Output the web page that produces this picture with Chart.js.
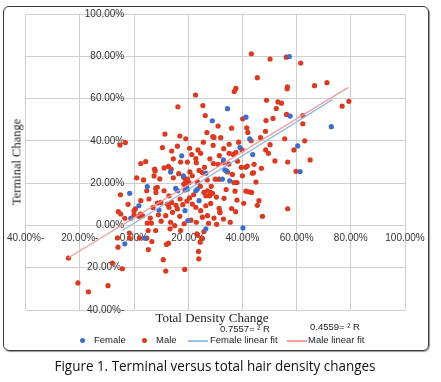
<!DOCTYPE html>
<html>
<head>
<meta charset="utf-8">
<script src="https://cdn.jsdelivr.net/npm/chart.js@4.4.1/dist/chart.umd.min.js"></script>
<style>
body{margin:0;background:#fff;}
#wrap{position:relative;width:441px;height:382px;overflow:hidden;}
#frame{position:absolute;left:3px;top:6px;width:424px;height:343px;border:1px solid #3a3a3a;border-radius:6px;box-shadow:1px 1px 1px #999;}
#c{position:absolute;left:0;top:0;}
.t{position:absolute;white-space:nowrap;color:#222;}
.serif{font-family:"Liberation Serif","DejaVu Serif",serif;}
.sans{font-family:"Liberation Sans",Arial,sans-serif;font-size:9.5px;line-height:12px;}
.dot{position:absolute;width:5px;height:5px;border-radius:50%;}
.ln{position:absolute;height:1.5px;}
</style>
</head>
<body>
<div id="wrap">
  <div id="frame"></div>
  <canvas id="c" width="441" height="382"></canvas>
  <div class="t serif" id="ytitle" style="left:17px;top:162px;font-size:12.5px;transform:translate(-50%,-50%) rotate(-90deg);">Terminal Change</div>
  <div class="t serif" id="xtitle" style="left:212px;top:318px;font-size:13px;transform:translate(-50%,-50%);">Total Density Change</div>
  <div class="t sans" style="left:220px;top:323px;">0.7557= ² R</div>
  <div class="t sans" style="left:310px;top:321px;">0.4559= ² R</div>
  <div class="dot" style="left:80px;top:338px;background:#3a6fd0;"></div>
  <div class="t sans" style="left:94px;top:334px;">Female</div>
  <div class="dot" style="left:142px;top:338px;background:#e2371c;"></div>
  <div class="t sans" style="left:156px;top:334px;">Male</div>
  <div class="ln" style="left:188px;top:340px;width:20px;background:#9cc0e8;"></div>
  <div class="t sans" style="left:210px;top:334px;">Female linear fit</div>
  <div class="ln" style="left:287px;top:340px;width:20px;background:#f5a0a0;"></div>
  <div class="t sans" style="left:308px;top:334px;">Male linear fit</div>
  <div class="t" id="caption" style="left:215px;top:365px;font-family:'Open Sans',sans-serif;font-size:15px;color:#111;"><span id="capText">Figure 1. Terminal versus total hair density changes</span></div>
</div>
<script>
// Female points (total density change %, terminal change %)
const femaleX = [57.3, 28.9, 34.5, 57.6, 41.3, 72.8, 60.4, 61.3, 42.7, 39.1, 43.8, 33.0, 33.5, 34.1, 32.6, 35.3, 17.6, 13.5, 26.5, 15.4, 16.1, 19.7, 22.8, 24.0, 9.2, 18.8, 4.9, -1.6, 1.8, -1.2, -3.4, 3.9, 19.9, 26.5, 40.2, 18.2, 19.1, 23.4];
const femaleY = [79.9, 49.5, 55.2, 51.7, 51.2, 46.7, 37.6, 25.5, 41.0, 36.8, 33.5, 31.0, 26.3, 25.8, 21.9, 21.1, 32.9, 25.3, 24.7, 17.5, 16.4, 17.2, 16.4, 11.7, 7.3, 7.0, 18.4, 15.2, 9.3, 3.4, -8.7, -6.0, 2.3, -1.6, -1.2, 23.4, 17.5, 17.2];

// Male points
const maleX = [
  43.3, 50.2, 56.2, 61.5, 45.5, 66.6, 71.2, 22.7, 37.6, 37.0, 56.6, 56.5, 16.2, 25.4, 26.3, 48.9, 53.1, 54.4, 52.5, 56.3, 51.3, 48.7, 40.1, 41.6, 62.3, 62.3, 76.8, 79.3,
  -5.2, -3.2, 11.4, 16.9, 19.1, 26.9, 29.1, 25.6, 50.2, 48.6, 49.6, 55.6, 59.0, 56.7, 59.8, 56.7, 29.5, 29.2, 38.6, 43.2, 33.1, 35.1, 36.7, 37.6, 39.9, 33.0, 29.3, 31.0, 38.2, 39.6, 41.2, 34.5, 36.3, 44.1, 30.0, 31.4, 38.0, 28.3, 29.0, 30.4, 37.3, 41.3, 43.4, 33.2, 46.1, 45.5, 28.3, 31.4, 31.7, 31.7, 37.5,
  10.5, 13.9, 21.3, 23.6, 24.6, 22.8, 23.0, 17.2, 11.1, 12.7, 13.7, 19.7, 20.6, 25.2, 18.4, 19.1, 19.7, 18.4, 19.3, 18.8, 20.3, 25.8, 27.1, 26.5, 27.9, 8.6, 11.1, 12.9, 9.9, 8.6, 12.3, 13.9, 12.9, 14.2, 16.0, 11.7, 16.9, 21.5, 22.8, 24.6, 26.5, 27.1, 25.2,
  2.5, 4.3, 1.0, 4.7, -5.0, 2.5, -2.2, 0.5, -5.8, -4.9, 0.0, 1.8, 3.1, 7.4, 7.6, 7.8, 8.0, 8.1, 0.0, 2.4, -3.4,
  32.0, 35.1, 46.7, 41.8, 44.3, 43.7, 36.9, 42.4, 47.4,
  -24.2, -8.0, -4.3, -20.7, -16.8, -9.6, -6.1, -5.9, -1.7, 2.0, 4.7, 5.3, 6.6, 5.2, 8.0, 10.8, 11.7, 12.0, 12.7, 13.3, 17.2, 18.7, 23.8, 23.9, 23.4, 24.4, 25.0, 25.8, 15.0, 23.2, 6.4, 4.9, -1.7,
  9.5, 14.5, 16.5, 21.5, 23.5, 24.5, 17.0, 20.5, 22.0, 15.5, 18.0, 19.5, 10.0, 13.5, 18.5, 21.0, 23.0, 27.5, 29.5, 30.5, 33.0, 35.5, 28.5, 27.0, 26.0, 28.0, 14.5, 16.0, 6.0, 9.0, 7.0, 5.5, 3.5, 20.5, 24.0, 36.0, 34.0, 40.0, 45.0, 47.0, 52.0, 42.0, 36.0, 31.0, 48.5, 63.0, 65.0, 31.5, 35.0, 38.0, 40.5
];
const maleY = [
  81.2, 78.7, 79.6, 76.8, 69.9, 66.1, 67.5, 61.7, 64.8, 63.4, 65.6, 64.6, 56.1, 56.7, 52.0, 59.2, 58.4, 57.8, 55.3, 52.5, 50.6, 49.6, 50.4, 46.2, 52.0, 48.1, 56.4, 58.7,
  38.0, 39.2, 43.2, 42.3, 41.0, 43.9, 42.0, 39.4, 38.2, 35.7, 34.1, 41.0, 35.7, 30.0, 25.6, 7.9, 41.6, 37.9, 39.4, 40.1, 36.3, 34.1, 33.6, 34.6, 35.7, 29.7, 29.3, 28.9, 30.4, 27.5, 27.5, 25.3, 24.1, 24.9, 21.9, 21.9, 20.3, 15.6, 15.2, 13.4, 16.2, 16.2, 15.6, 12.8, 11.7, 9.5, 10.4, 8.1, 6.5, 6.0, 6.5,
  36.8, 35.2, 33.5, 35.7, 34.1, 31.6, 29.7, 30.0, 27.2, 27.9, 26.6, 30.0, 25.3, 25.0, 22.7, 21.1, 21.9, 19.5, 18.7, 16.8, 20.3, 15.6, 16.4, 14.0, 14.0, 18.0, 16.4, 14.0, 10.9, 10.6, 10.1, 10.9, 8.6, 6.2, 7.8, 4.6, 4.3, 10.1, 8.6, 7.0, 9.3, 4.6, 3.9,
  29.3, 30.2, 22.5, 16.4, 14.5, 11.7, 10.0, 7.8, 6.5, 5.4, 4.9, 4.3, 4.6, 23.4, 26.6, 25.8, 17.5, 15.6, 7.0, 5.3, 3.4,
  41.5, 38.4, 41.5, 28.1, 28.9, 24.7, 20.3, 15.9, 4.3,
  -15.4, -17.8, -20.5, -27.2, -31.4, -28.5, -5.9, -10.3, -6.0, -6.0, -6.0, -11.4, -7.6, -2.4, -2.4, -16.2, -21.6, -9.0, -8.4, -1.6, -2.4, -20.8, -12.3, -15.8, -4.5, -7.9, -6.0, -2.9, -0.1, -4.0, 1.1, 1.1, -3.6,
  22.0, 22.5, 24.5, 23.5, 20.5, 18.5, 12.5, 13.0, 14.5, 9.5, 9.8, 11.5, 2.0, 1.5, 0.8, 2.5, 1.5, 1.0, 3.5, 0.5, 3.0, 1.5, 18.5, 21.5, 27.5, 31.5, 31.5, 37.5, 3.5, 5.0, 8.5, 12.5, 21.5, 36.5, 26.0, 8.0, 17.0, 23.5, 20.5, 27.0, 30.5, 44.0, 46.0, 47.0, 44.5, 40.0, 31.0, 33.0, 29.0, 12.0, 10.5
];

// linear fit end points
const femaleFitX = [-4.3, 73.2];
const femaleFitY = [-2.4, 59.5];
const maleFitX = [-24.2, 79.1];
const maleFitY = [-15.3, 65.3];

const axisMin = -40;
const axisMax = 100;
const axisStep = 20;

const toPts = (xs, ys) => xs.map((x, i) => ({x: x, y: ys[i]}));

const fmt = (v) => v < 0 ? Math.abs(v).toFixed(2) + '%-' : v.toFixed(2) + '%';

const gridColor = '#cfcfcf';

new Chart(document.getElementById('c'), {
  type: 'scatter',
  data: {
    datasets: [
      {label: 'Female linear fit', type: 'line', data: toPts(femaleFitX, femaleFitY), borderColor: '#8fb7e6', borderWidth: 1.2, pointRadius: 0, fill: false, order: 0},
      {label: 'Male linear fit', type: 'line', data: toPts(maleFitX, maleFitY), borderColor: '#f59a9a', borderWidth: 1.2, pointRadius: 0, fill: false, order: 0},
      {label: 'Female', data: toPts(femaleX, femaleY), backgroundColor: '#3a6fd0', borderWidth: 0, pointRadius: 2.6, order: 1},
      {label: 'Male', data: toPts(maleX, maleY), backgroundColor: '#e2371c', borderWidth: 0, pointRadius: 2.6, order: 2}
    ]
  },
  options: {
    responsive: false,
    animation: false,
    devicePixelRatio: 1,
    layout: {padding: {left: 25, top: 14, right: 36, bottom: 72}},
    plugins: {legend: {display: false}, tooltip: {enabled: false}},
    scales: {
      x: {
        type: 'linear', min: axisMin, max: axisMax,
        position: {y: 0},
        grid: {color: gridColor, drawTicks: false},
        border: {display: false},
        ticks: {stepSize: axisStep, padding: 7, color: '#333', font: {family: 'Liberation Sans', size: 10}, callback: fmt, maxRotation: 0, autoSkip: false}
      },
      y: {
        type: 'linear', min: axisMin, max: axisMax,
        position: {x: -3.6},
        grid: {color: gridColor, drawTicks: false},
        border: {display: false},
        ticks: {stepSize: axisStep, padding: 0, color: '#333', font: {family: 'Liberation Sans', size: 10}, callback: fmt, autoSkip: false}
      }
    }
  }
});

// caption uses a narrow face in the original, squeeze to the same width
const cap = document.getElementById('caption');
const capText = document.getElementById('capText');
const w = capText.getBoundingClientRect().width;
cap.style.transform = 'translate(-50%,-50%) scaleX(' + (321 / w) + ')';
</script>
</body>
</html>
